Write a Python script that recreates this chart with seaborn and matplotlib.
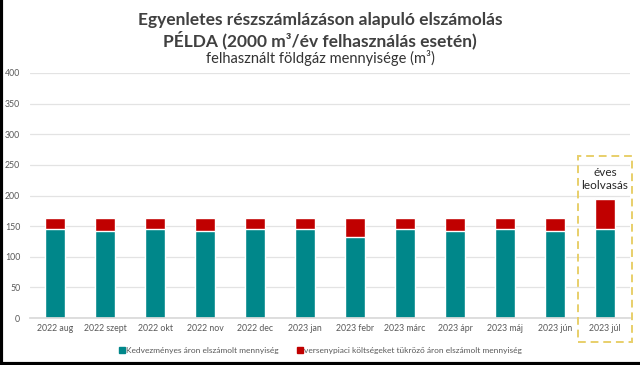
import matplotlib
matplotlib.use("Agg")
import matplotlib.pyplot as plt
import seaborn as sns
import pandas as pd
from matplotlib.patches import Rectangle
from matplotlib.lines import Line2D

months = ["2022 aug", "2022 szept", "2022 okt", "2022 nov", "2022 dec", "2023 jan",
          "2023 febr", "2023 márc", "2023 ápr", "2023 máj", "2023 jún", "2023 júl"]
kedvezmenyes = [146, 142, 146, 142, 146, 146, 132, 146, 142, 146, 142, 146]
versenypiaci = [18, 22, 18, 22, 18, 18, 32, 18, 22, 18, 22, 49]
yticks = [0, 50, 100, 150, 200, 250, 300, 350, 400]

df = pd.DataFrame({"honap": months, "kedv": kedvezmenyes, "verseny": versenypiaci})
df["total"] = df["kedv"] + df["verseny"]

TEAL = "#00878A"
RED = "#C00000"
GRAY = "#595959"

sns.set_theme(style="white")
plt.rcParams["font.family"] = ["Lato", "DejaVu Sans"]

fig = plt.figure(figsize=(6.4, 3.65), dpi=100)
ax = fig.add_axes([30/640, 1-318/365, 600/640, 245/365])

sns.barplot(data=df, x="honap", y="total", color=RED, width=0.39, saturation=1, ax=ax)
sns.barplot(data=df, x="honap", y="kedv", color=TEAL, width=0.39, saturation=1, ax=ax)

ax.set_ylim(0, 400)
ax.set_xlim(-0.5, len(months) - 0.5)
ax.set_yticks(yticks)
ax.set_yticklabels([str(t) for t in yticks], fontsize=6.3, color=GRAY)
ax.tick_params(axis="x", labelsize=6.3, colors=GRAY, length=0, pad=4)
ax.tick_params(axis="y", length=0, pad=7)
ax.set_xlabel("")
ax.set_ylabel("")
ax.yaxis.grid(True, color="#e3e3e3", linewidth=0.9)
ax.set_axisbelow(True)
for s in ["top", "right", "left"]:
    ax.spines[s].set_visible(False)
ax.spines["bottom"].set_color("#d9d9d9")

# dashed box around the last month
box = Rectangle((578/640, 1-342/365), 54/640, 186/365, transform=fig.transFigure,
                fill=False, edgecolor="#E8CF6A", linestyle=(0, (4, 2.5)), linewidth=1.4,
                zorder=5)
fig.patches.append(box)
fig.text(605/640, 1-179/365, "éves\nleolvasás", ha="center", va="center",
         fontsize=8.5, color="#262626", linespacing=1.15)

# titles
fig.text(0.5, 1-20/365, "Egyenletes részszámlázáson alapuló elszámolás", ha="center",
         va="center", fontsize=12.5, fontweight="bold", color="#404040")
fig.text(0.5, 1-40/365, "PÉLDA (2000 m³/év felhasználás esetén)", ha="center",
         va="center", fontsize=12.5, fontweight="bold", color="#404040")
fig.text(0.5, 1-58/365, "felhasznált földgáz mennyisége (m³)", ha="center",
         va="center", fontsize=10.5, color="#333333")

handles = [Line2D([], [], marker="s", linestyle="", color=TEAL, markersize=4.5),
           Line2D([], [], marker="s", linestyle="", color=RED, markersize=4.5)]
fig.legend(handles, ["Kedvezményes áron elszámolt mennyiség",
                     "versenypiaci költségeket tükröző áron elszámolt mennyiség"],
           loc="center", bbox_to_anchor=(0.5, 1-350/365), ncol=2, frameon=False,
           fontsize=6, handletextpad=0.0, handlelength=1.0, columnspacing=2.0,
           labelcolor=GRAY)

# black border artifacts
fig.add_artist(Line2D([0.002, 0.002], [0, 1], transform=fig.transFigure, color="black", linewidth=3))
fig.add_artist(Line2D([0, 1], [0.004, 0.004], transform=fig.transFigure, color="black", linewidth=3))

fig.savefig("out.png", dpi=100)
